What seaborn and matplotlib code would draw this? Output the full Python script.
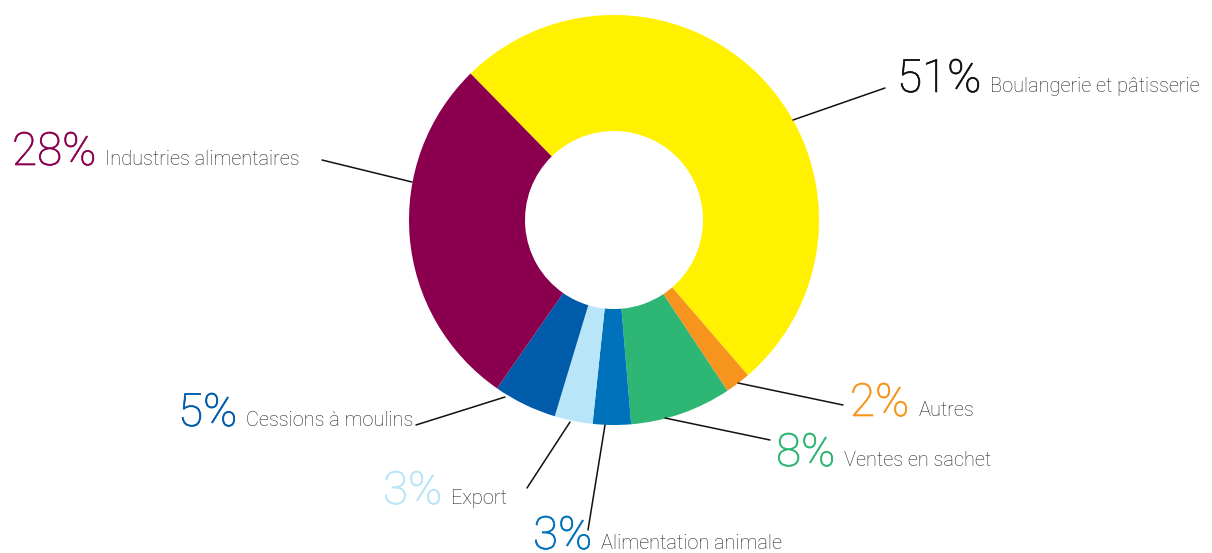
import matplotlib
matplotlib.use("Agg")
import matplotlib.pyplot as plt
import matplotlib.patheffects as pe
import seaborn as sns

# Données
categories = ["Boulangerie et pâtisserie", "Autres", "Ventes en sachet",
              "Alimentation animale", "Export", "Cessions à moulins",
              "Industries alimentaires"]
parts = [51, 2, 8, 3, 3, 5, 28]
couleurs = ["#FFF100", "#F7941D", "#2DB674", "#0072BB",
            "#B9E5F8", "#005BAA", "#8A004F"]
pct_couleurs = ["#111111", "#F7941D", "#2DB674", "#0072BB",
                "#B9E5F8", "#005BAA", "#8A004F"]

# Mise en page (pixels): départ du trait, fin du trait, position du texte
traits = [((793, 120), (885, 88)), ((738, 383), (843, 405)),
          ((665, 418), (770, 440)), ((605, 425), (588, 530)),
          ((570, 422), (527, 488)), ((505, 397), (416, 425)),
          ((412, 182), (322, 160))]
textes = [(897, 92), (850, 416), (776, 466), (533, 549),
          (383, 504), (178, 426), (12, 165)]

W, H = 1212, 553
sns.set_theme(style="white")
plt.rcParams["font.family"] = ["Roboto", "DejaVu Sans"]

fig = plt.figure(figsize=(W / 100, H / 100), dpi=100)
ax = fig.add_axes([0, 0, 1, 1])

R, r = 205, 89
ax.pie(parts, colors=couleurs, startangle=134.4, counterclock=False,
       center=(614, H - 220), radius=R,
       wedgeprops=dict(width=R - r, linewidth=0), frame=True)
ax.set_xlim(0, W)
ax.set_ylim(0, H)
ax.set_aspect("equal")
ax.axis("off")

pcts = []
for (p0, p1), (tx, ty), val, pc in zip(traits, textes, parts, pct_couleurs):
    ax.plot([p0[0], p1[0]], [H - p0[1], H - p1[1]], color="#111111", lw=1.1)
    t = ax.text(tx, H - ty, f"{val}%", color=pc, fontsize=33,
                fontweight="light", va="baseline", ha="left",
                path_effects=[pe.withStroke(linewidth=0.5, foreground=pc)])
    pcts.append(t)

fig.canvas.draw()
for t, cat in zip(pcts, categories):
    bb = t.get_window_extent()
    x, y = t.get_position()
    ax.text(bb.x1 + 9, y, cat, va="baseline", ha="left",
            fontsize=14.4, fontweight="light", color="#222222")

plt.savefig("out.png", dpi=100)
plt.close()
